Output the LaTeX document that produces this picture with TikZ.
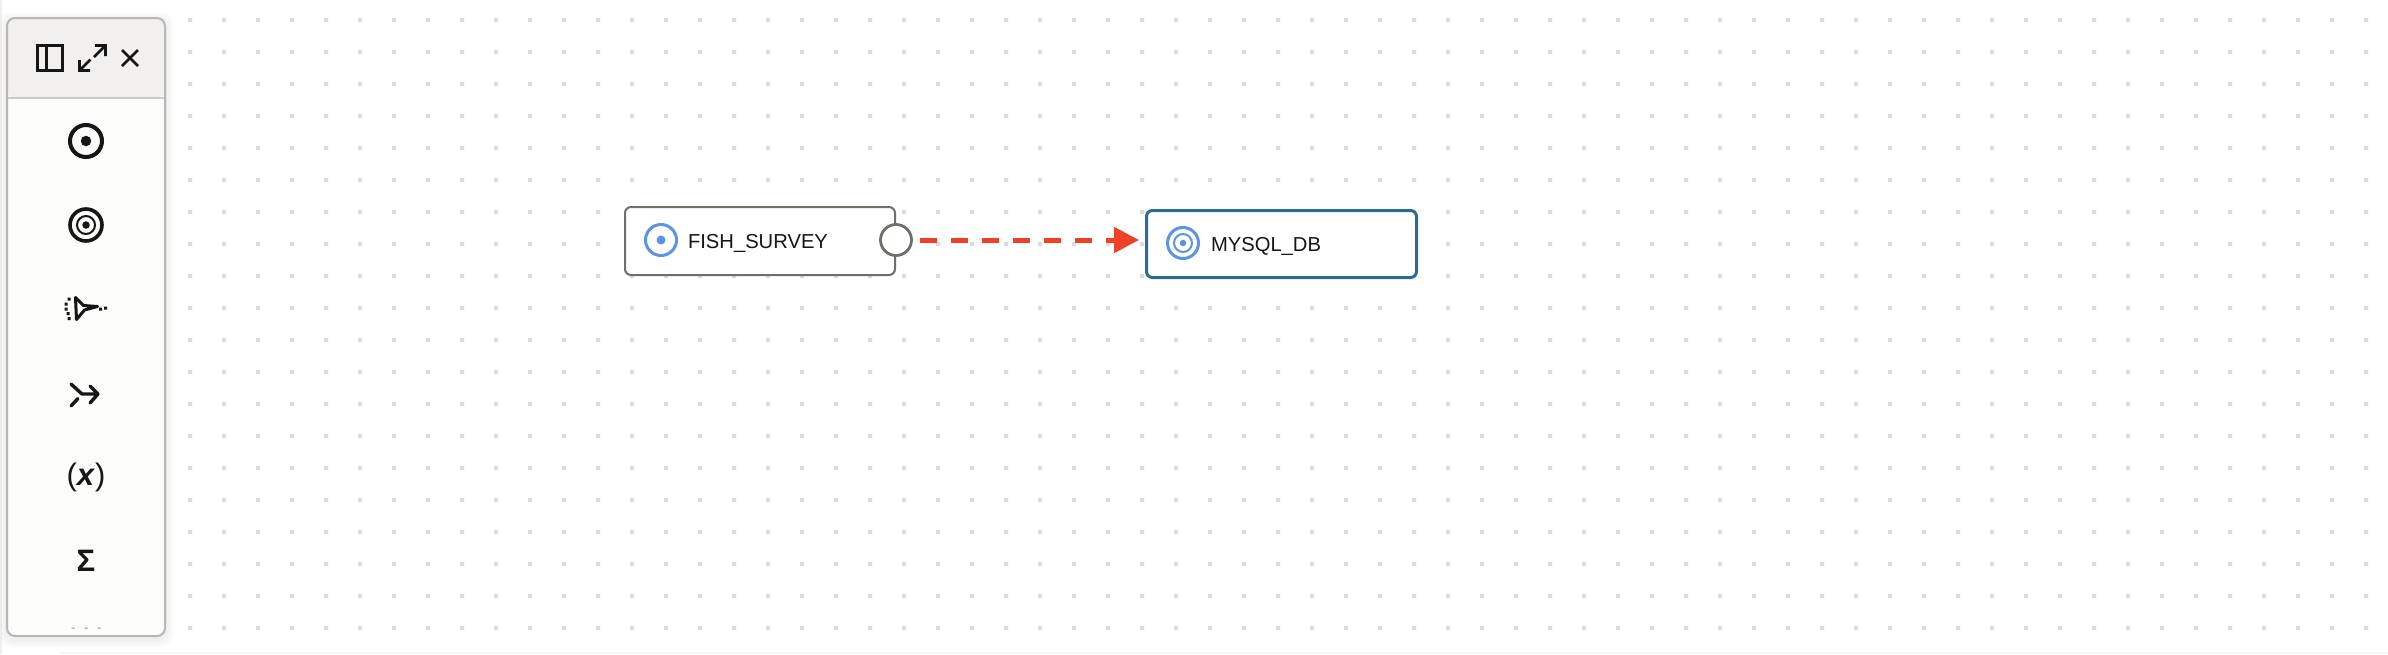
\documentclass[tikz,border=0pt]{standalone}
\usepackage{fontspec}
\setmainfont{Liberation Sans}
\usetikzlibrary{arrows.meta}
\definecolor{gridc}{HTML}{DCDCDC}
\definecolor{panelb}{HTML}{BAB6B1}
\definecolor{panelh}{HTML}{F2F0EE}
\definecolor{panelf}{HTML}{FCFCFA}
\definecolor{sepc}{HTML}{CBCBCB}
\definecolor{ink}{HTML}{161616}
\definecolor{nodeb}{HTML}{716D68}
\definecolor{selb}{HTML}{2C6A91}
\definecolor{iconb}{HTML}{5B94E0}
\definecolor{edgec}{HTML}{EE4126}
\tikzset{
  x=1pt,y=-1pt,
  box/.style={draw,rectangle,rounded corners=6pt,fill=white,outer sep=0pt,inner sep=0pt},
  label/.style={anchor=base west,inner sep=0pt,outer sep=0pt,text=ink,font=\fontsize{20.2}{24}\selectfont},
  ring/.style={draw,circle,inner sep=0pt,outer sep=0pt},
  disc/.style={circle,inner sep=0pt,outer sep=0pt},
  glyph/.style={draw=ink,line width=2.5pt,line cap=round,line join=round},
}
\begin{document}
\begin{tikzpicture}
\useasboundingbox (0,0) rectangle (2388,654);
\fill[white] (0,0) rectangle (2388,654);
\fill[black!6] (0,0) rectangle (2,654);
\fill[black!4] (60,652) rectangle (2388,654);
% dot grid
\fill[gridc]
  \foreach \i in {0,...,64}{\foreach \j in {0,...,19}{
    ({188+34*\i},{18+32*\j}) rectangle ++(4,4)}};
% panel shadow
\foreach \g in {8,6,4,2}{
  \fill[black,opacity=0.016,rounded corners=10pt] ({7-\g},{18-\g+3}) rectangle ({165+\g},{636+\g+3});
}
% panel
\fill[panelf,rounded corners=8pt] (7,18) rectangle (165,636);
\fill[panelh,rounded corners=8pt] (7,18) -- (165,18) -- (165,98) -- (7,98) -- cycle;
\draw[sepc,line width=2pt] (7,98) -- (165,98);
\draw[panelb,line width=2pt,rounded corners=8pt] (7,18) rectangle (165,636);
% header icons
\draw[ink,line width=2.4pt] (37.5,45.5) rectangle (62.5,70.5) (46.5,45.5) -- (46.5,70.5);
\draw[glyph,line width=2.6pt,line cap=butt,line join=miter] (79.5,60) -- (79.5,70.5) -- (90,70.5) (79.5,70.5) -- (90.5,59.5);
\draw[glyph,line width=2.6pt,line cap=butt,line join=miter] (95,45.5) -- (105.5,45.5) -- (105.5,56) (105.5,45.5) -- (94,57);
\draw[glyph,line width=2.8pt,line cap=butt] (122,50) -- (138,66) (138,50) -- (122,66);
% palette icons
\node[ring,draw=ink,line width=4pt,minimum size=32pt] (pa) at (86,141) {};
\node[disc,fill=ink,minimum size=10.5pt] (pad) at (86,141) {};
\node[ring,draw=ink,line width=3.6pt,minimum size=32pt] (pb) at (86,225) {};
\node[ring,draw=ink,line width=2pt,minimum size=18pt] (pbm) at (86,225) {};
\node[disc,fill=ink,minimum size=7.5pt] (pbd) at (86,225) {};
\draw[glyph,line width=3pt] (75.5,297.5) -- (83.5,305.5) -- (97.5,306.5) -- (84.5,310) -- (76.5,319.5) -- cycle;
\fill[ink]
  (67.5,297.5) rectangle ++(3,3) (64.5,302.5) rectangle ++(3,3) (64.5,307.5) rectangle ++(3,3)
  (66.5,312) rectangle ++(3,3) (67.5,317) rectangle ++(3,3)
  (99,307.5) rectangle ++(3,3) (104,306.5) rectangle ++(3,3);
\draw[glyph,line width=3.4pt] (71,384) -- (82,394) -- (98,394) (90,386) -- (98,394) -- (90,403) (71,406) -- (78,398.5);
\node[inner sep=0pt,text=ink,font=\fontsize{31}{36}\selectfont] (varx) at (86,477) {(\textit{\textbf{x}})};
\node[inner sep=0pt,text=ink,font=\fontsize{31}{36}\selectfont\bfseries] (sigma) at (86,561) {Σ};
\fill[black!45] (71.5,627.5) rectangle ++(3,1) (84.5,627.5) rectangle ++(3,1) (97.5,627.5) rectangle ++(3,1);
% nodes
\node[box,draw=nodeb,line width=2pt,minimum width=270pt,minimum height=68pt] (fish) at (760,241) {};
\node[ring,draw=iconb,line width=3pt,minimum size=31pt] (fishi) at (661,240) {};
\node[disc,fill=iconb,minimum size=9pt] (fishd) at (661,240) {};
\node[label] (fisht) at (688,248) {FISH\_SURVEY};
\node[ring,draw=nodeb,line width=2.8pt,fill=white,minimum size=31pt] (port) at (896,240) {};
\node[box,draw=selb,line width=3pt,minimum width=270pt,minimum height=67pt] (mysql) at (1281.5,244) {};
\node[ring,draw=iconb,line width=3pt,minimum size=31pt] (mysqli) at (1183,243) {};
\node[ring,draw=iconb,line width=2pt,minimum size=18pt] (mysqlm) at (1183,243) {};
\node[disc,fill=iconb,minimum size=6.5pt] (mysqld) at (1183,243) {};
\node[label] (mysqlt) at (1211,251) {MYSQL\_DB};
% edge
\draw[edgec,line width=5pt,dash pattern=on 17pt off 14pt,shorten <=8.5pt,shorten >=7.5pt,
  -{Triangle[length=25pt,width=25pt]}] (port.east) -- (port.east -| mysql.west);
\end{tikzpicture}
\end{document}
